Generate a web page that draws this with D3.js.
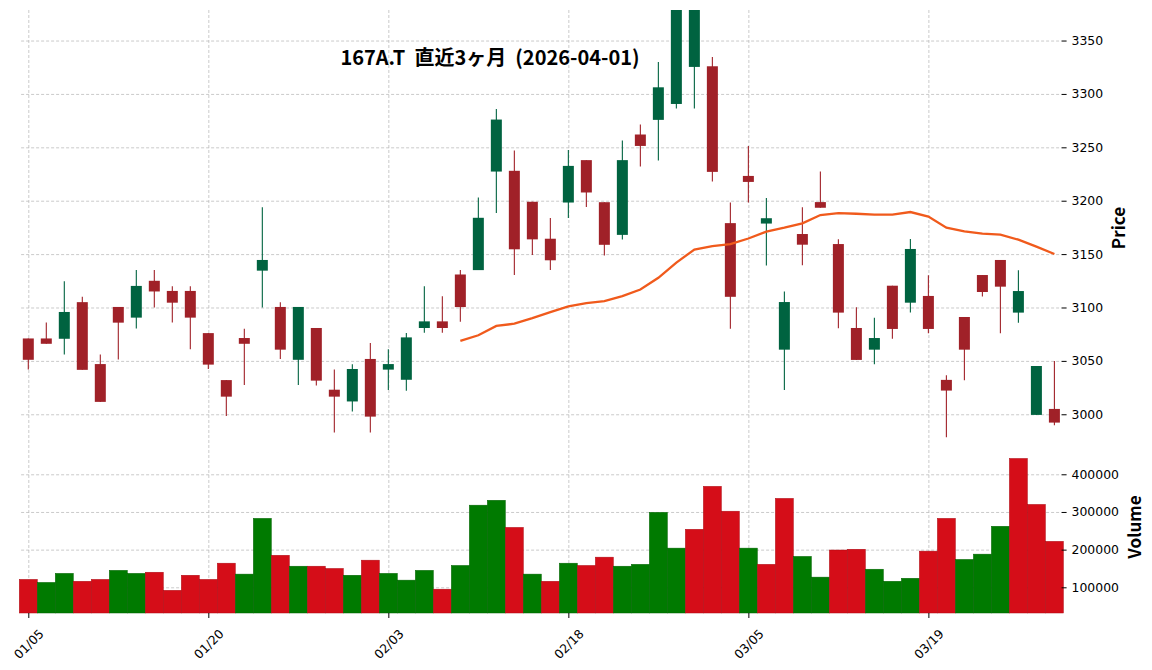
<!DOCTYPE html>
<html>
<head>
  <meta charset="utf-8">
  <title>167A.T 直近3ヶ月</title>
  <script src="https://cdn.jsdelivr.net/npm/d3@7"></script>
  <style>
    body { margin: 0; background: #fff; }
    .tick text { font-family: "DejaVu Sans", sans-serif; font-size: 12.4px; fill: #000; }
    .grid line { stroke: #bdbdbd; stroke-width: 0.8; stroke-dasharray: 3,2; }
    .grid path { display: none; }
    .lbl { font-family: "Noto Sans CJK JP", sans-serif; font-weight: bold; white-space: pre; }
  </style>
</head>
<body>
<script>
// trading days shown on the chart
var dates = ["01/05","01/06","01/07","01/08","01/09","01/13","01/14","01/15","01/16","01/19",
             "01/20","01/21","01/22","01/23","01/26","01/27","01/28","01/29","01/30","02/02",
             "02/03","02/04","02/05","02/06","02/09","02/10","02/12","02/13","02/16","02/17",
             "02/18","02/19","02/20","02/24","02/25","02/26","02/27","03/02","03/03","03/04",
             "03/05","03/06","03/09","03/10","03/11","03/12","03/13","03/16","03/17","03/18",
             "03/19","03/23","03/24","03/25","03/26","03/27","03/30","03/31"];

// OHLC
var opens  = [3071,3071,3070.7,3105,3047,3100.5,3090.5,3125,3115.5,3115.5,
              3076,3032,3071.4,3134.5,3100.5,3051,3080.8,3023,3012,3051.8,
              3041.8,3032.3,3080.8,3087,3130.9,3135,3227.3,3228,3199,3164.4,
              3198.3,3238,3198.6,3168,3262,3275.7,3290.6,3325.3,3325.9,3179,
              3223.2,3178.6,3060.5,3168.8,3198.7,3159.4,3080.8,3060.5,3120.4,3104.5,
              3110.8,3032.2,3091.1,3130.4,3144.5,3095.2,2999.4,3005];
var highs  = [3071,3086,3124.6,3110,3056,3100.5,3135,3135,3120,3120,
              3076,3032,3080,3193.8,3105,3100.5,3080.8,3042,3046.8,3066.8,
              3060.8,3076,3120,3110.6,3135.2,3203,3286,3247,3199,3183.7,
              3247.5,3238,3198.6,3256.3,3271.3,3330,3400,3400,3334.6,3198.3,
              3251.3,3202.6,3115,3193.8,3227.4,3163.8,3100.2,3090.5,3120.4,3164.1,
              3130.1,3036.5,3091.1,3130.4,3144.5,3134.8,3045.2,3050];
var lows   = [3042,3066,3056,3041.6,3011.6,3051.3,3080.4,3100,3086,3061,
              3042.4,2998.4,3027.5,3100,3051.8,3027.5,3027,2983,3002.5,2983,
              3022.8,3022,3076.4,3076.4,3086.7,3135,3188.4,3130.5,3149.2,3135.2,
              3183.7,3194,3148.7,3163.6,3232,3237.6,3286.3,3286.3,3218,3080,
              3198.3,3139.3,3022.8,3139.5,3193.4,3080.5,3050.9,3046.8,3070.8,3095.2,
              3075.8,2978.5,3031.8,3110.4,3075.8,3085.8,2999.4,2989.7];
var closes = [3051,3066,3095.8,3041.6,3011.6,3085.8,3120.2,3115,3104.5,3090.5,
              3046.5,3016.5,3066,3144.5,3060.5,3100.5,3031.5,3016.5,3042.4,2997.8,
              3047,3072,3087,3080.8,3100.4,3184,3276,3154.5,3163.8,3144.2,
              3232.6,3207.7,3158.7,3238,3251.3,3306.2,3395,3385,3227,3110,
              3217.6,3183.6,3105.1,3158.8,3193.4,3095.2,3050.9,3071.4,3079.9,3154.8,
              3079.9,3022.2,3060.5,3114.5,3119.5,3115.4,3045.2,2992.2];
var volumes = [121000,113000,137000,116000,121000,145000,137000,140000,92000,132000,
               121000,164000,135000,283000,185000,156000,156000,150000,132000,172000,
               137000,119000,145000,95000,158000,318000,331000,259000,135000,116000,
               164000,158000,180000,156000,161000,299000,204000,254000,368000,302000,
               204000,161000,336000,182000,127000,199000,201000,148000,116000,124000,
               196000,283000,174000,188000,262000,442000,320000,222000];
// 25-day moving average as drawn (starts at the 25th session)
var maStart = 24;
var ma25 = [3068.7,3074,3082.7,3084.8,3090,3095.7,3101,3104,3106,3110.6,
            3116.8,3127.8,3142,3154.3,3157.4,3159.3,3164.6,3171,3174.7,3178.8,
            3186.6,3188.4,3187.8,3186.9,3186.9,3189.4,3185.2,3174.7,3171.3,3169.1,
            3168.2,3163.5,3157,3150.1];

var xTickIdx = [0, 10, 20, 30, 40, 50];
var priceTicks = [3000, 3050, 3100, 3150, 3200, 3250, 3300, 3350];
var volTicks = [100000, 200000, 300000, 400000];

var W = 1152, H = 670;
var left = 21.1, right = 1061.6;
var pTop = 10, pBot = 440, vTop = 440, vBot = 613;

var svg = d3.select("body").append("svg").attr("width", W).attr("height", H);

var x = d3.scaleLinear().domain([-0.4, dates.length - 0.6]).range([left, right]);
var step = x(1) - x(0);
var y = d3.scaleLinear().domain([2975.9, 3378.6]).range([pBot, pTop]);
var yv = d3.scaleLinear().domain([31800, 491000]).range([vBot, vTop]);

var upC = "#006340", dnC = "#a02128";
var vUp = "#007a00", vDn = "#d50d18";

svg.append("defs").append("clipPath").attr("id", "pclip")
  .append("rect").attr("x", left).attr("y", pTop).attr("width", right - left).attr("height", pBot - pTop);

// grids
svg.append("g").attr("class", "grid")
  .attr("transform", "translate(" + left + ",0)")
  .call(d3.axisRight(y).tickValues(priceTicks).tickSize(right - left).tickFormat(""));
svg.append("g").attr("class", "grid")
  .attr("transform", "translate(" + left + ",0)")
  .call(d3.axisRight(yv).tickValues(volTicks).tickSize(right - left).tickFormat(""));
svg.append("g").attr("class", "grid")
  .attr("transform", "translate(0," + vBot + ")")
  .call(d3.axisTop(x).tickValues(xTickIdx).tickSize(vBot - pTop).tickFormat(""));

// volume bars, coloured by close vs previous close
var vcol = function(i) {
  if (i === 0) return closes[0] >= opens[0] ? vUp : vDn;
  return closes[i] >= closes[i - 1] ? vUp : vDn;
};
svg.append("g").selectAll("rect").data(volumes).enter().append("rect")
  .attr("x", function(d, i) { return x(i) - step / 2; })
  .attr("width", step)
  .attr("y", function(d) { return yv(d); })
  .attr("height", function(d) { return vBot - yv(d); })
  .attr("fill", function(d, i) { return vcol(i); })
  .attr("stroke", function(d, i) { return d3.color(vcol(i)).darker(0.6); })
  .attr("stroke-width", 0.5);

// candles
var cg = svg.append("g").attr("clip-path", "url(#pclip)");
var idx = d3.range(dates.length);
var ccol = function(i) { return closes[i] >= opens[i] ? upC : dnC; };
cg.selectAll("line.wick").data(idx).enter().append("line")
  .attr("class", "wick")
  .attr("x1", function(i) { return x(i); }).attr("x2", function(i) { return x(i); })
  .attr("y1", function(i) { return y(highs[i]); }).attr("y2", function(i) { return y(lows[i]); })
  .attr("stroke", ccol).attr("stroke-width", 1.1);
cg.selectAll("rect.body").data(idx).enter().append("rect")
  .attr("class", "body")
  .attr("x", function(i) { return x(i) - 5.5; })
  .attr("width", 11)
  .attr("y", function(i) { return y(Math.max(opens[i], closes[i])); })
  .attr("height", function(i) { return Math.max(1, Math.abs(y(opens[i]) - y(closes[i]))); })
  .attr("fill", ccol);

// moving average
var line = d3.line().x(function(d, i) { return x(i + maStart); }).y(function(d) { return y(d); });
cg.append("path").datum(ma25).attr("d", line)
  .attr("fill", "none").attr("stroke", "#f05a1c").attr("stroke-width", 2.3);

// axes
var pa = svg.append("g").attr("transform", "translate(" + right + ",0)")
  .call(d3.axisRight(y).tickValues(priceTicks).tickSize(5).tickPadding(5).tickFormat(d3.format("d")));
var va = svg.append("g").attr("transform", "translate(" + right + ",0)")
  .call(d3.axisRight(yv).tickValues(volTicks).tickSize(5).tickPadding(5).tickFormat(d3.format("d")));
pa.select(".domain").remove();
va.select(".domain").remove();
var xa = svg.append("g").attr("transform", "translate(0," + vBot + ")")
  .call(d3.axisBottom(x).tickValues(xTickIdx).tickSize(5).tickFormat(function(i) { return dates[i]; }));
xa.select(".domain").remove();
xa.selectAll(".tick text")
  .attr("y", 0).attr("dy", null)
  .attr("text-anchor", "middle")
  .attr("dominant-baseline", "central")
  .attr("transform", "translate(0,31) rotate(-45)");

// labels
svg.append("text").attr("class", "lbl")
  .attr("x", 490).attr("y", 56).attr("text-anchor", "middle").attr("dominant-baseline", "central")
  .style("font-size", "20px")
  .text("167A.T  直近3ヶ月  (2026-04-01)");
svg.append("text").attr("class", "lbl")
  .attr("transform", "translate(1117,228) rotate(-90)")
  .attr("text-anchor", "middle").attr("dominant-baseline", "central")
  .style("font-size", "17px").text("Price");
svg.append("text").attr("class", "lbl")
  .attr("transform", "translate(1133,527) rotate(-90)")
  .attr("text-anchor", "middle").attr("dominant-baseline", "central")
  .style("font-size", "17px").text("Volume");
</script>
</body>
</html>
